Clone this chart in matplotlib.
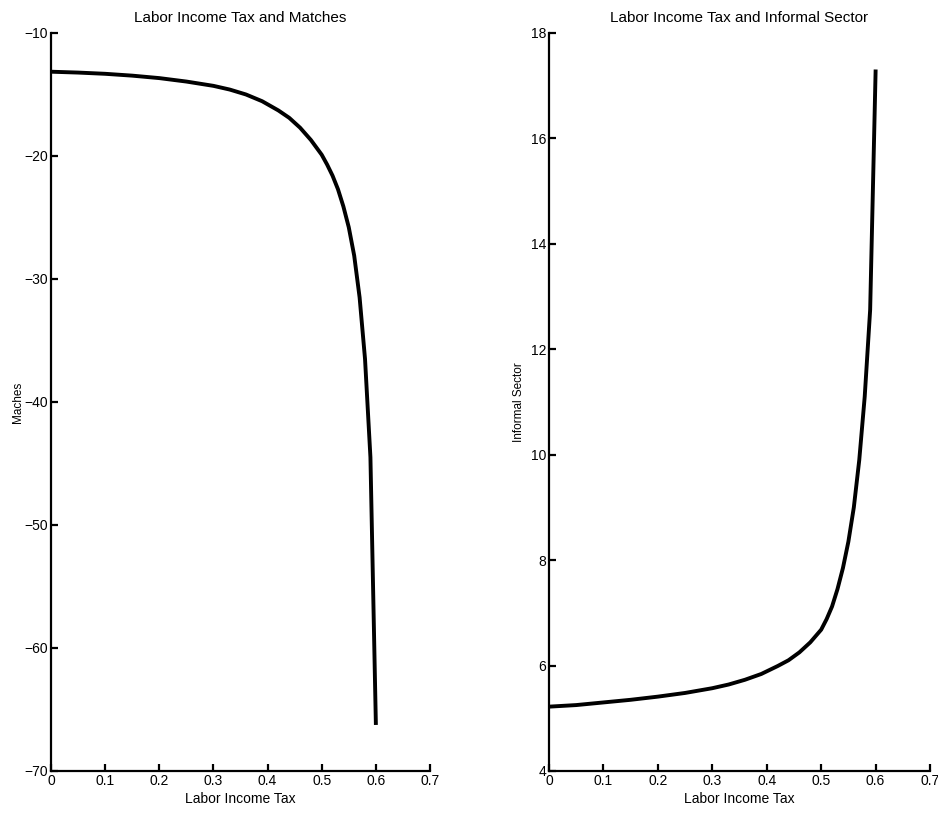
import matplotlib
matplotlib.use('Agg')
import matplotlib.pyplot as plt

plt.rcParams['font.family'] = ['Liberation Sans Narrow', 'Liberation Sans', 'DejaVu Sans']

# labor income tax grid
tax = [0.0, 0.05, 0.1, 0.15, 0.2, 0.25, 0.3, 0.33, 0.36, 0.39, 0.42,
       0.44, 0.46, 0.48, 0.5, 0.51, 0.52, 0.53, 0.54, 0.55, 0.56, 0.57,
       0.58, 0.59, 0.6]

# matches
matches = [-13.15, -13.22, -13.32, -13.47, -13.67, -13.95, -14.3, -14.6,
           -15.0, -15.55, -16.3, -16.9, -17.7, -18.7, -19.9, -20.7, -21.6,
           -22.7, -24.1, -25.8, -28.1, -31.5, -36.5, -44.5, -66.1]

# informal sector
informal = [5.22, 5.25, 5.30, 5.35, 5.41, 5.48, 5.57, 5.64, 5.73, 5.84,
            5.99, 6.10, 6.25, 6.44, 6.68, 6.88, 7.12, 7.45, 7.85, 8.35,
            9.0, 9.9, 11.1, 12.75, 17.27]

x_ticks = [0, 0.1, 0.2, 0.3, 0.4, 0.5, 0.6, 0.7]
x_tick_labels = ['0', '0.1', '0.2', '0.3', '0.4', '0.5', '0.6', '0.7']
left_yticks = [-70, -60, -50, -40, -30, -20, -10]
right_yticks = [4, 6, 8, 10, 12, 14, 16, 18]


def style_axis(ax, yticks, ylim, title, ylabel, label_x):
    # MATLAB-like look: only left and bottom lines, ticks pointing in
    ax.set_xlim(0, 0.7)
    ax.set_ylim(*ylim)
    ax.set_xticks(x_ticks)
    ax.set_xticklabels(x_tick_labels)
    ax.set_yticks(yticks)
    for side in ['top', 'right']:
        ax.spines[side].set_visible(False)
    for side in ['left', 'bottom']:
        ax.spines[side].set_linewidth(1.6)
    ax.tick_params(direction='in', length=5, width=1.6, labelsize=10, pad=2)
    ax.set_title(title, fontsize=11, pad=8)
    ax.set_xlabel('Labor Income Tax', fontsize=10, labelpad=3)
    ax.set_ylabel(ylabel, fontsize=8.5, family=['Liberation Sans', 'DejaVu Sans'])
    ax.yaxis.set_label_coords(label_x, 0.5)


fig = plt.figure(figsize=(9.38, 8.18), dpi=100)

ax1 = fig.add_axes([0.0544, 0.0575, 0.404, 0.9022])
ax1.plot(tax, matches, color='black', linewidth=2.8, solid_joinstyle='round')
style_axis(ax1, left_yticks, (-70, -10), 'Labor Income Tax and Matches', 'Maches', -0.072)

ax2 = fig.add_axes([0.5853, 0.0575, 0.4062, 0.9022])
ax2.plot(tax, informal, color='black', linewidth=2.8, solid_joinstyle='round')
style_axis(ax2, right_yticks, (4, 18), 'Labor Income Tax and Informal Sector', 'Informal Sector', -0.062)

plt.savefig('out.png', dpi=100)
